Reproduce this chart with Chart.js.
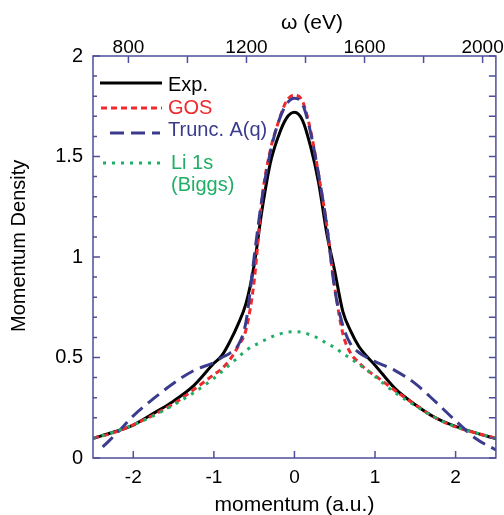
<!DOCTYPE html>
<html>
<head>
<meta charset="utf-8">
<script src="https://cdn.jsdelivr.net/npm/chart.js@4.4.1/dist/chart.umd.min.js"></script>
<style>
html,body{margin:0;padding:0;background:#fff;}
canvas{display:block;}
</style>
</head>
<body>
<canvas id="c" width="504" height="515"></canvas>
<script>
// ---- data ----
const momentum = [-2.5,-2.25,-2,-1.75,-1.5,-1.25,-1,-0.9,-0.8,-0.7,-0.6,-0.5,-0.4,-0.3,-0.2,-0.1,0,0.1,0.2,0.3,0.4,0.5,0.6,0.7,0.8,0.9,1,1.25,1.5,1.75,2,2.25,2.5];
const expDensity = [0.098,0.128,0.164,0.222,0.283,0.36,0.471,0.51,0.58,0.665,0.77,0.96,1.24,1.466,1.60,1.69,1.72,1.68,1.55,1.37,1.12,0.93,0.73,0.63,0.555,0.505,0.462,0.345,0.265,0.200,0.157,0.125,0.096];
const gosDensity = [0.098,0.125,0.165,0.214,0.27,0.34,0.415,0.445,0.49,0.555,0.64,0.88,1.30,1.53,1.67,1.775,1.806,1.775,1.63,1.41,1.16,0.85,0.62,0.52,0.475,0.437,0.41,0.335,0.265,0.20,0.155,0.125,0.098];
const truncMomentum = [-2.38,-2.2,-2,-1.75,-1.5,-1.25,-1,-0.9,-0.8,-0.7,-0.6,-0.5,-0.4,-0.3,-0.2,-0.1,0,0.1,0.2,0.3,0.4,0.5,0.6,0.7,0.8,0.9,1,1.25,1.5,1.75,2,2.25,2.5];
const truncDensity = [0.055,0.125,0.21,0.295,0.372,0.435,0.475,0.5,0.522,0.56,0.68,1.0,1.30,1.52,1.67,1.76,1.79,1.76,1.62,1.41,1.16,0.84,0.66,0.565,0.525,0.50,0.48,0.435,0.37,0.28,0.185,0.097,0.04];
const li1sDensity = [0.098,0.128,0.165,0.21,0.264,0.325,0.396,0.43,0.465,0.50,0.535,0.56,0.58,0.60,0.615,0.625,0.628,0.625,0.612,0.595,0.57,0.55,0.52,0.495,0.465,0.438,0.405,0.325,0.26,0.20,0.155,0.125,0.098];

const momentumTicks = [-2,-1,0,1,2];
const energyTicks = [800,1000,1200,1400,1600,1800,2000];
const energyLabels = [800,1200,1600,2000];
const densityTicks = [0,0.1,0.2,0.3,0.4,0.5,0.6,0.7,0.8,0.9,1,1.1,1.2,1.3,1.4,1.5,1.6,1.7,1.8,1.9,2];
const densityLabels = [0,0.5,1,1.5,2];
const seriesNames = ['Exp.','GOS','Trunc. A(q)',['Li 1s','(Biggs)']];

const axisColor = '#4f4f9b';
const FONT = '"Liberation Sans", Arial, Helvetica, sans-serif';

function pts(xs, ys){ return xs.map((x,i)=>({x:x,y:ys[i]})); }

const datasets = [
  {label:'Li 1s (Biggs)', data:pts(momentum, li1sDensity), borderColor:'#1fae66', borderWidth:3, borderDash:[3,6], textColor:'#1fae66', legendIndex:3},
  {label:'Trunc. A(q)', data:pts(truncMomentum, truncDensity), borderColor:'#3b3b8e', borderWidth:3, borderDash:[14,7], textColor:'#3b3b8e', legendIndex:2},
  {label:'GOS', data:pts(momentum, gosDensity), borderColor:'#ee2a2e', borderWidth:3, borderDash:[6,4], textColor:'#ee2a2e', legendIndex:1},
  {label:'Exp.', data:pts(momentum, expDensity), borderColor:'#000000', borderWidth:3, borderDash:[], textColor:'#000000', legendIndex:0}
].map(d=>Object.assign(d,{xAxisID:'x', yAxisID:'y', pointRadius:0, fill:false, cubicInterpolationMode:'monotone', borderCapStyle:'butt'}));

function near(a,b){ return Math.abs(a-b)<1e-6; }

const frameAndTicks = {
  id:'frameAndTicks',
  afterDraw(chart){
    const ctx = chart.ctx, a = chart.chartArea;
    const xs = chart.scales.x, xt = chart.scales.xTop, ys = chart.scales.y;
    ctx.save();
    ctx.strokeStyle = axisColor;
    ctx.lineWidth = 1.5;
    ctx.beginPath();
    xs.ticks.forEach(t=>{const p=xs.getPixelForValue(t.value); ctx.moveTo(p,a.bottom); ctx.lineTo(p,a.bottom-7);});
    xt.ticks.forEach(t=>{const p=xt.getPixelForValue(t.value); ctx.moveTo(p,a.top); ctx.lineTo(p,a.top+7);});
    ys.ticks.forEach(t=>{
      const p=ys.getPixelForValue(t.value);
      const major = densityLabels.some(v=>near(v,t.value));
      ctx.moveTo(a.left,p); ctx.lineTo(a.left+(major?7:4),p);
      ctx.moveTo(a.right,p); ctx.lineTo(a.right-7,p);
    });
    ctx.stroke();
    ctx.strokeRect(a.left, a.top, a.right-a.left, a.bottom-a.top);
    ctx.restore();
  }
};

const insideLegend = {
  id:'insideLegend',
  afterDatasetsDraw(chart){
    const ctx = chart.ctx;
    const rows = [
      {lineY:83, x0:100, x1:162, textY:[85]},
      {lineY:108, x0:101, x1:162, textY:[108]},
      {lineY:133, x0:110, x1:160, textY:[130]},
      {lineY:163, x0:103, x1:160, textY:[163,185]}
    ];
    chart.data.datasets.forEach(ds=>{
      const r = rows[ds.legendIndex];
      ctx.save();
      ctx.strokeStyle = ds.borderColor;
      ctx.lineWidth = ds.borderWidth;
      ctx.setLineDash(ds.borderDash||[]);
      ctx.beginPath(); ctx.moveTo(r.x0,r.lineY); ctx.lineTo(r.x1,r.lineY); ctx.stroke();
      ctx.setLineDash([]);
      ctx.fillStyle = ds.textColor;
      ctx.font = '20px ' + FONT;
      ctx.textBaseline = 'middle';
      ctx.textAlign = 'left';
      let txt = seriesNames[ds.legendIndex];
      if (!Array.isArray(txt)) txt=[txt];
      txt.forEach((s,i)=>ctx.fillText(s, ds.legendIndex===3?171:168, r.textY[i]));
      ctx.restore();
    });
  }
};

new Chart(document.getElementById('c'), {
  type:'line',
  data:{datasets:datasets},
  options:{
    responsive:false,
    animation:false,
    events:[],
    layout:{padding:{left:0,right:8,top:0,bottom:0}},
    plugins:{legend:{display:false}, tooltip:{enabled:false}},
    scales:{
      x:{
        type:'linear', position:'bottom', min:-2.5, max:2.5,
        afterBuildTicks:s=>{s.ticks = momentumTicks.map(v=>({value:v}));},
        afterFit:s=>{s.height = 57;},
        grid:{display:false, drawTicks:false},
        border:{display:false},
        ticks:{color:'#000', font:{family:FONT, size:19, lineHeight:1.2}, padding:8, maxRotation:0,
          callback:v=>String(v)},
        title:{display:true, text:'momentum (a.u.)', color:'#000', font:{family:FONT, size:21, lineHeight:0.9}, padding:{top:0,bottom:0}}
      },
      xTop:{
        type:'linear', position:'top', min:680, max:2045,
        afterBuildTicks:s=>{s.ticks = energyTicks.map(v=>({value:v}));},
        afterFit:s=>{s.height = 56;},
        grid:{display:false, drawTicks:false},
        border:{display:false},
        ticks:{color:'#000', font:{family:FONT, size:19, lineHeight:0.9}, padding:0, maxRotation:0, autoSkip:false,
          callback:v=>energyLabels.includes(v)?String(v):''},
        title:{display:true, text:'      ω (eV)', color:'#000', font:{family:FONT, size:21, lineHeight:1.2}, padding:{top:11,bottom:0}}
      },
      y:{
        type:'linear', position:'left', min:0, max:2,
        afterBuildTicks:s=>{s.ticks = densityTicks.map(v=>({value:v}));},
        afterFit:s=>{s.width = 93;},
        grid:{display:false, drawTicks:false},
        border:{display:false},
        ticks:{color:'#000', font:{family:FONT, size:20}, padding:10, autoSkip:false,
          callback:v=>{const m=densityLabels.find(d=>near(d,v)); return m===undefined?'':String(m);}},
        title:{display:true, text:'    Momentum Density', color:'#000', font:{family:FONT, size:20, lineHeight:1.2}, padding:{top:7,bottom:0}}
      }
    }
  },
  plugins:[frameAndTicks, insideLegend]
});
</script>
</body>
</html>
